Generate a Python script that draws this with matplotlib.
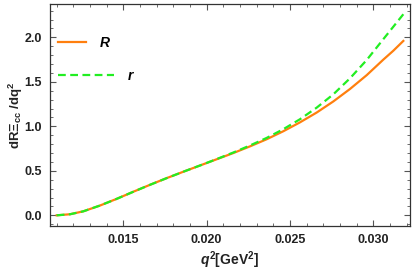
import matplotlib
matplotlib.use("Agg")
import matplotlib.pyplot as plt
from matplotlib.ticker import MultipleLocator
from matplotlib.lines import Line2D

q2 = [0.0110, 0.0118, 0.0126, 0.0136, 0.0146, 0.0156, 0.0166, 0.0176, 0.0186,
      0.0196, 0.0206, 0.0216, 0.0226, 0.0236, 0.0246, 0.0256, 0.0266, 0.0276,
      0.0286, 0.0296, 0.0306, 0.0312, 0.0318]
R_vals = [0.0, 0.012, 0.045, 0.11, 0.185, 0.265, 0.343, 0.418, 0.49,
          0.56, 0.63, 0.70, 0.775, 0.855, 0.945, 1.045, 1.155, 1.28,
          1.42, 1.575, 1.75, 1.85, 1.96]
r_vals = [0.0, 0.012, 0.045, 0.11, 0.185, 0.265, 0.343, 0.418, 0.49,
          0.56, 0.632, 0.706, 0.785, 0.87, 0.968, 1.08, 1.21, 1.36,
          1.54, 1.745, 1.98, 2.12, 2.26]

plt.rcParams['font.family'] = ['Liberation Sans', 'DejaVu Sans']
plt.rcParams['mathtext.fontset'] = 'custom'
plt.rcParams['mathtext.rm'] = 'Liberation Sans:bold'
plt.rcParams['mathtext.bf'] = 'Liberation Sans:bold'
plt.rcParams['mathtext.it'] = 'Liberation Sans:bold:italic'
plt.rcParams['mathtext.default'] = 'bf'

fig = plt.figure(figsize=(4.15, 2.72), dpi=100)
ax = fig.add_axes([50/415, 1-226/272, 360/415, 222/272])

orange = '#FF7F0E'
green = '#22EE22'
ax.plot(q2, R_vals, color=orange, lw=1.6, zorder=3)
ax.plot(q2, r_vals, color=green, lw=1.6, ls=(0, (3.5, 2)), zorder=4)

ax.set_xlim(0.0106, 0.0322)
ax.set_ylim(-0.12, 2.375)
ax.xaxis.set_minor_locator(MultipleLocator(0.001))
ax.yaxis.set_major_locator(MultipleLocator(0.5))
ax.yaxis.set_minor_locator(MultipleLocator(0.1))
ax.set_xticks([0.015, 0.020, 0.025, 0.030])
ax.set_xticklabels(['0.015', '0.020', '0.025', '0.030'])
ax.tick_params(which='both', direction='in', top=True, right=True,
               color='#555555', labelsize=9, labelcolor='#222222')
ax.tick_params(which='major', length=4, width=0.8, pad=6)
ax.tick_params(which='minor', length=2, width=0.6)
for lab in ax.get_xticklabels() + ax.get_yticklabels():
    lab.set_fontweight('bold')
for s in ax.spines.values():
    s.set_color('#333333')
    s.set_linewidth(0.9)

ax.set_xlabel(r'$\mathit{q}^{2}$[GeV$^{2}$]', fontsize=10, fontweight='bold',
              color='#222222', labelpad=2)
ax.set_ylabel(r'dR$\Xi_{cc}$ /dq$^{2}$', fontsize=9.5, fontweight='bold',
              color='#222222')
ax.yaxis.set_label_coords(-0.07, 0.5)

leg1 = ax.legend([Line2D([], [], color=orange, lw=1.6)], ['R'],
                 loc='upper left', bbox_to_anchor=(0.0, 0.895), frameon=False,
                 handlelength=2.0, handletextpad=1.0, borderaxespad=0.2,
                 prop={'size': 10, 'weight': 'bold', 'style': 'italic'})
ax.add_artist(leg1)
leg2 = ax.legend([Line2D([], [], color=green, lw=1.6, ls=(0, (3.5, 2)))], ['r'],
                 loc='upper left', bbox_to_anchor=(0.0, 0.745), frameon=False,
                 handlelength=4.0, handletextpad=1.0, borderaxespad=0.2,
                 prop={'size': 10, 'weight': 'bold', 'style': 'italic'})

fig.savefig('out.png', dpi=100)
